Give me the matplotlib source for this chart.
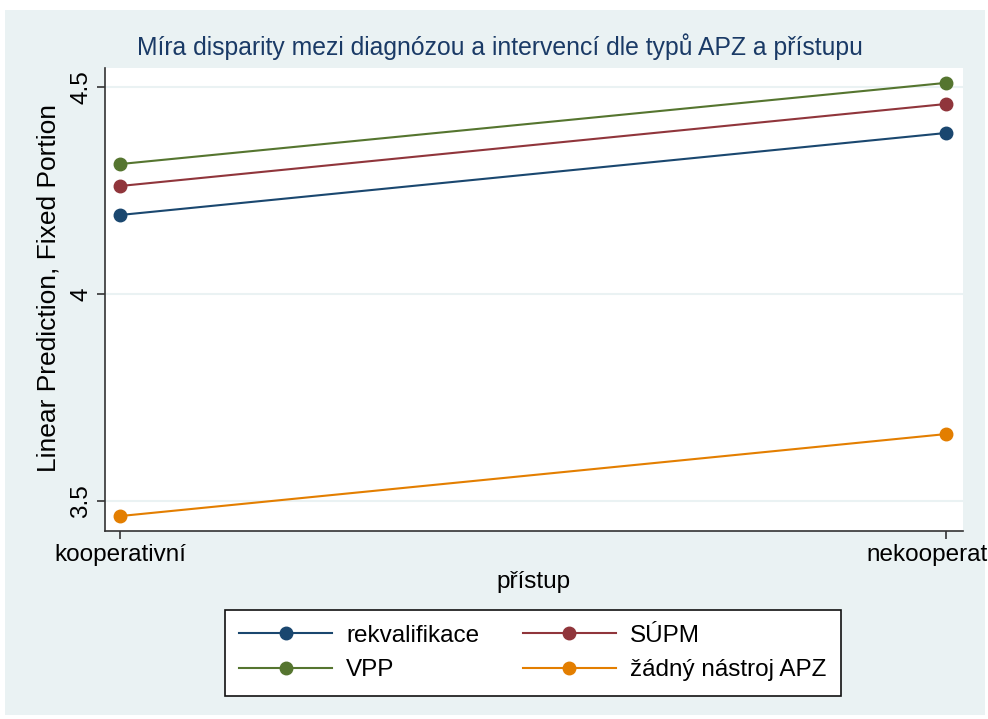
import matplotlib
matplotlib.use('Agg')
import matplotlib.pyplot as plt
from matplotlib.patches import Rectangle

plt.rcParams['font.family'] = ['Liberation Sans', 'DejaVu Sans']

# data
pristup = ['kooperativní', 'nekooperativní']
rekvalifikace = [4.191, 4.389]
supm = [4.261, 4.459]
vpp = [4.314, 4.510]
zadny = [3.464, 3.662]

series = [('rekvalifikace', rekvalifikace, '#1a476f'),
          ('SÚPM', supm, '#90353b'),
          ('VPP', vpp, '#55752f'),
          ('žádný nástroj APZ', zadny, '#e37e00')]

bg = '#eaf2f3'
fig = plt.figure(figsize=(9.88, 7.19), dpi=100)
fig.patch.set_facecolor('white')
fig.patches.append(Rectangle((5/988, 4/719), 980/988, 705/719, transform=fig.transFigure,
                             facecolor=bg, edgecolor='none', zorder=-10))

ax = fig.add_axes([105/988, 1 - 531/719, 858/988, 463/719])
ax.set_facecolor('white')

x = [0, 1]
lines = {}
for name, vals, col in series:
    lines[name], = ax.plot(x, vals, color=col, lw=1.5, marker='o', ms=9, label=name,
                           clip_on=False, zorder=3)

ax.set_xlim(-0.018, 1.021)
ax.set_ylim(3.428, 4.546)
ax.set_yticks([3.5, 4, 4.5])
ax.set_yticklabels(['3.5', '4', '4.5'], rotation=90, va='center', fontsize=17.5)
ax.set_xticks(x)
ax.set_xticklabels(pristup, fontsize=17.5)
ax.grid(axis='y', color=bg, lw=1.5, zorder=0)
ax.set_axisbelow(True)

for s in ['top', 'right']:
    ax.spines[s].set_visible(False)
for s in ['left', 'bottom']:
    ax.spines[s].set_color('#333333')
    ax.spines[s].set_linewidth(1.2)
ax.tick_params(length=6, width=1.2, color='#333333', pad=3)

ax.set_ylabel('Linear Prediction, Fixed Portion', fontsize=19)
ax.yaxis.set_label_coords(-0.052, 0.525)
ax.set_xlabel('přístup', fontsize=17.5, labelpad=4)
fig.text(500/988, 1 - 47/719, 'Míra disparity mezi diagnózou a intervencí dle typů APZ a přístupu',
         fontsize=17.8, color='#1a3a66', ha='center', va='center')

# row-wise order like the reference: matplotlib fills columns first
order = ['rekvalifikace', 'VPP', 'SÚPM', 'žádný nástroj APZ']
leg = fig.legend([lines[n] for n in order], order, loc='center',
                 bbox_to_anchor=(533/988, 1 - 653/719), ncol=2,
                 fontsize=17.5, frameon=True, fancybox=False, edgecolor='#111111',
                 framealpha=1, handlelength=3.8, handletextpad=0.6, columnspacing=1.8,
                 borderpad=0.6, labelspacing=0.5, borderaxespad=0)
leg.get_frame().set_linewidth(1.2)

fig.savefig('out.png', dpi=100, facecolor=fig.get_facecolor())
